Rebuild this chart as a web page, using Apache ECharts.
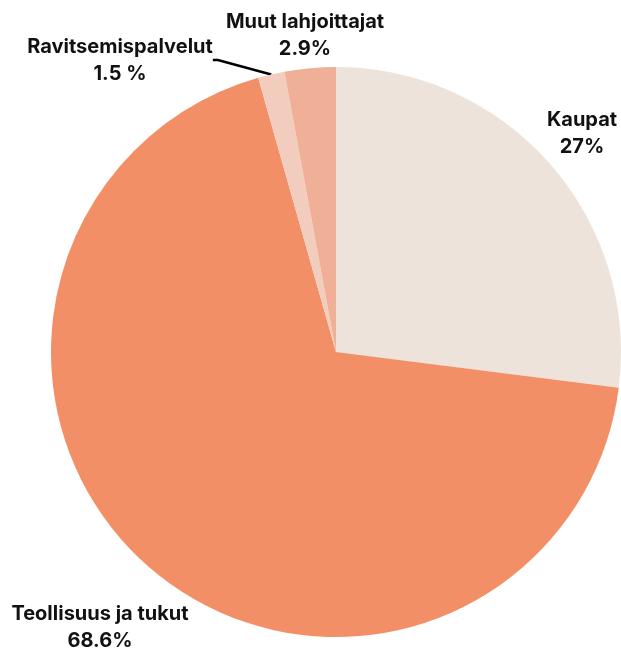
<!DOCTYPE html>
<html>
<head>
<meta charset="utf-8">
<script src="https://cdn.jsdelivr.net/npm/echarts@6/dist/echarts.min.js"></script>
<style>
html,body{margin:0;padding:0;background:#fff;}
#chart{width:621px;height:650px;}
</style>
</head>
<body>
<div id="chart"></div>
<script>
const categories = ["Kaupat", "Teollisuus ja tukut", "Ravitsemispalvelut", "Muut lahjoittajat"];
const values = [27, 68.6, 1.5, 2.9];
const valueLabels = ["27%", "68.6%", "1.5 %", "2.9%"];
const colors = ["#EDE3DA", "#F28F66", "#F2CDBD", "#F0B097"];
const labelPos = [[582, 133], [100, 627], [120, 60], [305, 35]];

const chart = echarts.init(document.getElementById('chart'));
chart.setOption({
  animation: false,
  series: [{
    type: 'pie',
    center: [336, 352],
    radius: 285,
    startAngle: 90,
    clockwise: true,
    data: categories.map((c, i) => ({
      name: c,
      value: values[i],
      itemStyle: { color: colors[i] },
      labelLine: { show: i === 2 }
    })),
    label: {
      show: true,
      position: 'outside',
      formatter: p => p.name + '\n' + valueLabels[p.dataIndex],
      fontFamily: 'Inter',
      fontWeight: 'bold',
      fontSize: 20,
      lineHeight: 27,
      color: '#111',
      align: 'center',
      overflow: 'none'
    },
    labelLine: {
      lineStyle: { color: '#000', width: 2.5 },
      length: 5,
      length2: 5
    },
    labelLayout: function (params) {
      const p = labelPos[params.dataIndex];
      return { x: p[0], y: p[1], align: 'center', verticalAlign: 'middle' };
    },
    emphasis: { disabled: true }
  }]
});
</script>
</body>
</html>
